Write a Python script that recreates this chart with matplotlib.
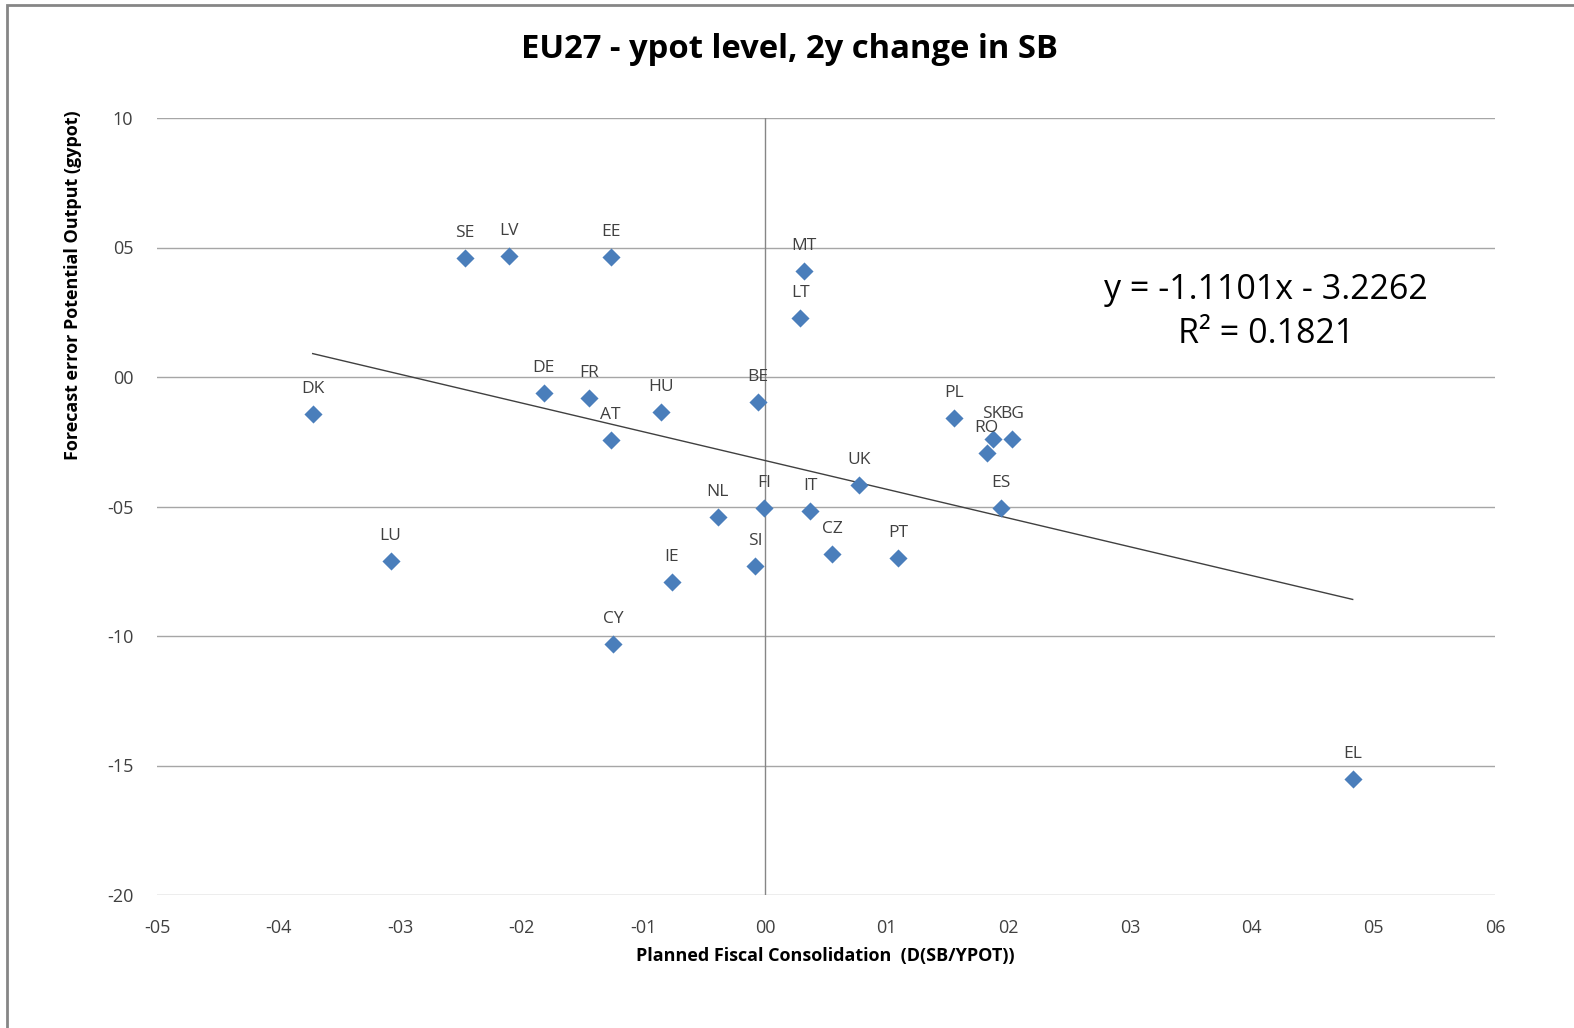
import matplotlib
matplotlib.use("Agg")
import matplotlib.pyplot as plt
from matplotlib.patches import Rectangle
import numpy as np

countries = ["DK", "LU", "SE", "LV", "EE", "DE", "FR", "AT", "HU", "CY", "IE", "NL", "SI", "FI",
             "BE", "MT", "LT", "IT", "CZ", "UK", "PT", "PL", "SK", "RO", "BG", "ES", "EL"]
x_vals = [-3.72, -3.08, -2.47, -2.11, -1.27, -1.82, -1.45, -1.27, -0.86, -1.25, -0.77, -0.39, -0.08, -0.01,
          -0.06, 0.32, 0.29, 0.37, 0.55, 0.77, 1.09, 1.55, 1.87, 1.82, 2.03, 1.94, 4.83]
y_vals = [-1.43, -7.10, 4.59, 4.67, 4.63, -0.62, -0.81, -2.43, -1.35, -10.31, -7.92, -5.41, -7.30, -5.06,
          -0.97, 4.09, 2.28, -5.17, -6.83, -4.17, -6.99, -1.58, -2.39, -2.93, -2.39, -5.06, -15.52]
slope = -1.1101
intercept = -3.2262
r2 = 0.1821
x_ticks = [-5, -4, -3, -2, -1, 0, 1, 2, 3, 4, 5, 6]
x_tick_labels = ["-05", "-04", "-03", "-02", "-01", "00", "01", "02", "03", "04", "05", "06"]
y_ticks = [-20, -15, -10, -5, 0, 5, 10]
y_tick_labels = ["-20", "-15", "-10", "-05", "00", "05", "10"]

plt.rcParams['font.family'] = ['Open Sans', 'DejaVu Sans']

W, H = 1574, 1028
fig = plt.figure(figsize=(W / 100, H / 100), dpi=100)
fig.patches.append(Rectangle((7 / W, -0.1), 1.2, 1 - 5 / H + 0.1, transform=fig.transFigure,
                             fill=False, edgecolor="#868686", linewidth=2, zorder=0))

ax = fig.add_axes([157 / W, 1 - 895 / H, (1495 - 157) / W, (895 - 118) / H])
ax.set_xlim(-5, 6)
ax.set_ylim(-20, 10)
for s in ax.spines.values():
    s.set_visible(False)
ax.set_yticks(y_ticks)
ax.set_yticklabels(y_tick_labels)
ax.set_xticks(x_ticks)
ax.set_xticklabels(x_tick_labels)
ax.tick_params(length=0, labelsize=13, colors="#404040")
ax.tick_params(axis="x", pad=17)
ax.tick_params(axis="y", pad=17)
ax.grid(axis="y", color="#a6a6a6", linewidth=1)
ax.set_axisbelow(True)
ax.axvline(0, color="#868686", linewidth=1, zorder=1)

ax.scatter(x_vals, y_vals, marker="D", s=85, color="#4a7ebb", zorder=3, linewidths=0)
for c, xv, yv in zip(countries, x_vals, y_vals):
    ax.annotate(c, (xv, yv), xytext=(0, 12), textcoords="offset points", ha="center",
                va="bottom", fontsize=12.5, color="#404040")

xl = np.array([min(x_vals), max(x_vals)])
ax.plot(xl, slope * xl + intercept, color="#404040", linewidth=1, zorder=2)

fig.text(1266 / W, 1 - 290 / H, f"y = {slope:.4f}x - {abs(intercept):.4f}", ha="center", va="center",
         fontsize=24.5, color="#000000")
fig.text(1266 / W, 1 - 334 / H, f"R² = {r2:.4f}", ha="center", va="center", fontsize=24.5, color="#000000")

fig.text(789 / W, 1 - 49 / H, "EU27 - ypot level, 2y change in SB", ha="center", va="center",
         fontsize=23.6, fontweight="bold", color="#000000")
fig.text(825 / W, 1 - 956 / H, "Planned Fiscal Consolidation  (D(SB/YPOT))", ha="center", va="center",
         fontsize=13, fontweight="bold", color="#000000")
fig.text(73 / W, 1 - 285 / H, "Forecast error Potential Output (gypot)", ha="center", va="center",
         rotation=90, fontsize=13, fontweight="bold", color="#000000")

fig.savefig("out.png", dpi=100, facecolor="white")
